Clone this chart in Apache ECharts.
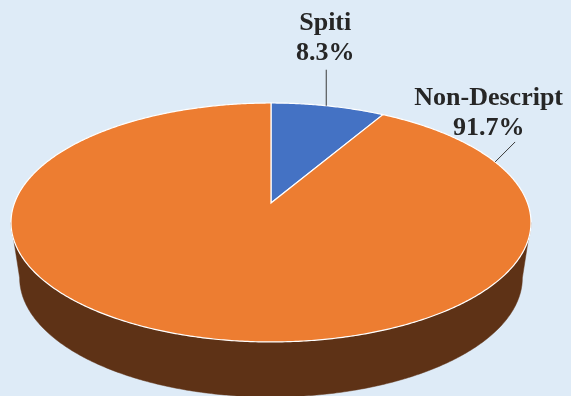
<!DOCTYPE html>
<html>
<head>
<meta charset="utf-8">
<script src="https://cdn.jsdelivr.net/npm/echarts@6/dist/echarts.min.js"></script>
<style>
html,body{margin:0;padding:0;background:#DEEBF7;}
#chart{width:571px;height:396px;}
</style>
</head>
<body>
<div id="chart"></div>
<script>
// ---- data ----
const categories = ['Spiti', 'Non-Descript'];
const shares = [8.3, 91.7];
const pctLabels = ['8.3%', '91.7%'];

// ---- styles ----
const topColors = ['#4472C4', '#ED7D31'];
const sideColors = ['#2B4A80', '#5E3216'];

// ---- 3D pie geometry (layout) ----
const G = { cx: 271, cy: 203, R: 256.5, R2: 116.3, k: 0.163, cyB: 258.4, RB: 248, R2B: 116 };
// label layout: anchor angle on rim, leader offset, text offsets
const labelLayout = [
  { angle: null, mid: true, ldx: 0, ldy: -36, tdx: -1, ty1: -82, ty2: -52 },
  { angle: 68, mid: false, ldx: 20, ldy: -20, tdx: -6.5, ty1: -64, ty2: -34 }
];

const total = shares.reduce((a, b) => a + b, 0);
const cum = [0];
shares.forEach((v, i) => cum.push(cum[i] + v));

function proj(deg, R, R2, cy) {
  const t = deg * Math.PI / 180;
  const X = Math.sin(t), Z = Math.cos(t);
  const d = 1 + G.k * Z;
  return [G.cx + R * X / d, cy - R2 * Z / d];
}
const topPt = a => proj(a, G.R, G.R2, G.cy);
const botPt = a => proj(a, G.RB, G.R2B, G.cyB);
const thR = Math.acos(-G.k) * 180 / Math.PI;
const thL = 360 - thR;

function sliceRange(i) {
  return [cum[i] / total * 360, cum[i + 1] / total * 360];
}

function renderSide(params, api) {
  const i = params.dataIndex;
  const [s, e] = sliceRange(i);
  const a0 = Math.max(s, thR), a1 = Math.min(e, thL);
  if (a1 <= a0) return { type: 'group', children: [] };
  const pts = [];
  for (let a = a0; a < a1; a += 0.5) pts.push(topPt(a));
  pts.push(topPt(a1));
  for (let a = a1; a > a0; a -= 0.5) pts.push(botPt(a));
  pts.push(botPt(a0));
  return {
    type: 'polygon',
    shape: { points: pts },
    style: { fill: sideColors[i], stroke: sideColors[i], lineWidth: 0.5 }
  };
}

function renderTop(params, api) {
  const i = params.dataIndex;
  const [s, e] = sliceRange(i);
  const pts = [[G.cx, G.cy]];
  for (let a = s; a < e; a += 0.5) pts.push(topPt(a));
  pts.push(topPt(e));
  const L = labelLayout[i];
  const ang = L.mid ? (s + e) / 2 - 0.5 : L.angle;
  const anc = topPt(ang);
  const font = { fontFamily: '"Liberation Serif", "DejaVu Serif", serif', fontWeight: 'bold', fontSize: 26, fill: '#262626', align: 'center', verticalAlign: 'middle' };
  return {
    type: 'group',
    children: [
      { type: 'polygon', shape: { points: pts }, style: { fill: topColors[i], stroke: '#FFFFFF', lineWidth: 1.2 } },
      { type: 'line', shape: { x1: anc[0], y1: anc[1], x2: anc[0] + L.ldx, y2: anc[1] + L.ldy }, style: { stroke: '#3A3A3A', lineWidth: 1 } },
      { type: 'text', style: Object.assign({ text: categories[i], x: anc[0] + L.tdx, y: anc[1] + L.ty1 }, font) },
      { type: 'text', style: Object.assign({ text: pctLabels[i], x: anc[0] + L.tdx, y: anc[1] + L.ty2 }, font) }
    ]
  };
}

const chart = echarts.init(document.getElementById('chart'), null, { renderer: 'canvas' });
const seriesData = categories.map((c, i) => ({ name: c, value: shares[i] }));
chart.setOption({
  backgroundColor: '#DEEBF7',
  animation: false,
  series: [
    { type: 'custom', name: 'side', coordinateSystem: 'none', silent: true, z: 1, renderItem: renderSide, data: seriesData },
    { type: 'custom', name: 'top', coordinateSystem: 'none', silent: true, z: 2, renderItem: renderTop, data: seriesData }
  ]
});
</script>
</body>
</html>
